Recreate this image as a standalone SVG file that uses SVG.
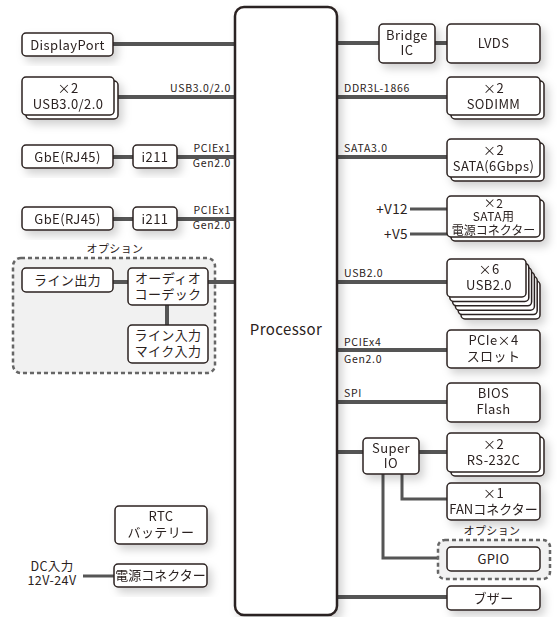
<svg xmlns="http://www.w3.org/2000/svg" width="557" height="617" viewBox="0 0 557 617">
<defs>
<filter id="sh" x="-20%" y="-20%" width="150%" height="160%">
<feDropShadow dx="4" dy="5" stdDeviation="4" flood-color="#000" flood-opacity="0.18"/>
</filter>
</defs>
<style>
.b{fill:#fff;stroke:#2b2220;stroke-width:1.5}
.t{font-family:"Noto Sans CJK JP","Noto Sans",sans-serif;font-size:13px;letter-spacing:0.4px;fill:#2b2220;text-anchor:middle}
.s{font-family:"Noto Sans CJK JP","Noto Sans",sans-serif;font-size:10.5px;letter-spacing:0.7px;fill:#2b2220}
.l{stroke:#555;stroke-width:4;fill:none}
.m{stroke:#555;stroke-width:3;fill:none}
.opt{fill:#f1f1f1;stroke:#666;stroke-width:2.5;stroke-dasharray:4 3}
</style>
<rect width="557" height="617" fill="#fff"/>

<g id="connectors">
<line class="l" x1="113" y1="44" x2="236" y2="44"/>
<line class="l" x1="118" y1="97" x2="236" y2="97"/>
<line class="l" x1="113" y1="157" x2="133" y2="157"/>
<line class="l" x1="177" y1="157" x2="236" y2="157"/>
<line class="l" x1="113" y1="219" x2="133" y2="219"/>
<line class="l" x1="177" y1="219" x2="236" y2="219"/>
<line class="l" x1="336" y1="43" x2="379" y2="43"/>
<line class="l" x1="435" y1="43" x2="447" y2="43"/>
<line class="l" x1="336" y1="97" x2="447" y2="97"/>
<line class="l" x1="336" y1="157" x2="447" y2="157"/>
<line class="m" x1="410" y1="209" x2="447" y2="209"/>
<line class="m" x1="410" y1="234" x2="447" y2="234"/>
<line class="l" x1="336" y1="282" x2="447" y2="282"/>
<line class="l" x1="336" y1="350" x2="447" y2="350"/>
<line class="l" x1="336" y1="402" x2="447" y2="402"/>
<line class="l" x1="336" y1="452" x2="363" y2="452"/>
<line class="l" x1="419" y1="452" x2="447" y2="452"/>
<polyline class="m" points="402,474 402,499 447,499"/>
<polyline class="m" points="383,474 383,558 447,558"/>
<line class="l" x1="336" y1="597" x2="447" y2="597"/>
<line class="m" x1="83" y1="576" x2="114" y2="576"/>
</g>

<g id="option-audio">
<rect class="opt" x="13" y="258" width="202" height="115" rx="8"/>
<text class="t" x="115" y="253" style="font-size:11px">オプション</text>
<line class="l" x1="113" y1="282" x2="128" y2="282"/>
<line class="l" x1="208" y1="282" x2="236" y2="282"/>
<line class="l" x1="167" y1="305" x2="167" y2="325"/>
</g>

<g id="processor">
<rect x="235" y="7" width="102" height="608" rx="9" fill="#fff" stroke="#2b2220" stroke-width="2.5" filter="url(#sh)"/>
<text class="t" x="286" y="335" style="font-size:15px">Processor</text>
</g>

<g id="displayport" filter="url(#sh)">
<rect class="b" x="22" y="33" width="91" height="23" rx="4"/>
<text class="t" x="67.5" y="49.5">DisplayPort</text>
</g>
<g id="usb30" filter="url(#sh)">
<rect class="b" x="26" y="81" width="92" height="38" rx="4"/>
<rect class="b" x="22" y="77" width="92" height="38" rx="4"/>
<text class="t" x="68" y="93">×2</text>
<text class="t" x="68" y="109">USB3.0/2.0</text>
</g>
<g id="gbe1" filter="url(#sh)">
<rect class="b" x="22" y="145" width="91" height="23" rx="4"/>
<text class="t" x="67.5" y="161.5">GbE(RJ45)</text>
</g>
<g id="i211-1" filter="url(#sh)">
<rect class="b" x="133" y="145" width="44" height="23" rx="4"/>
<text class="t" x="155" y="161.5">i211</text>
</g>
<g id="gbe2" filter="url(#sh)">
<rect class="b" x="22" y="207" width="91" height="23" rx="4"/>
<text class="t" x="67.5" y="223.5">GbE(RJ45)</text>
</g>
<g id="i211-2" filter="url(#sh)">
<rect class="b" x="133" y="207" width="44" height="23" rx="4"/>
<text class="t" x="155" y="223.5">i211</text>
</g>
<g id="line-out">
<rect class="b" x="22" y="268" width="91" height="24" rx="4"/>
<text class="t" x="67.5" y="285">ライン出力</text>
</g>
<g id="codec">
<rect class="b" x="128" y="268" width="80" height="37" rx="4"/>
<text class="t" x="168" y="283">オーディオ</text>
<text class="t" x="168" y="299">コーデック</text>
</g>
<g id="line-in">
<rect class="b" x="128" y="325" width="80" height="38" rx="4"/>
<text class="t" x="168" y="340">ライン入力</text>
<text class="t" x="168" y="356">マイク入力</text>
</g>
<g id="rtc" filter="url(#sh)">
<rect class="b" x="115" y="506" width="92" height="38" rx="4"/>
<text class="t" x="161" y="521">RTC</text>
<text class="t" x="161" y="537">バッテリー</text>
</g>
<g id="dc-in">
<text class="t" x="52" y="571" style="font-size:12.5px">DC入力</text>
<text class="t" x="52" y="585" style="font-size:12.5px">12V-24V</text>
</g>
<g id="power-conn" filter="url(#sh)">
<rect class="b" x="114" y="564" width="93" height="23" rx="4"/>
<text class="t" x="160.5" y="580" style="letter-spacing:0">電源コネクター</text>
</g>

<g id="labels">
<text class="s" x="231" y="92" text-anchor="end">USB3.0/2.0</text>
<text class="s" x="231" y="152" text-anchor="end">PCIEx1</text>
<text class="s" x="231" y="167" text-anchor="end">Gen2.0</text>
<text class="s" x="231" y="214" text-anchor="end">PCIEx1</text>
<text class="s" x="231" y="229" text-anchor="end">Gen2.0</text>
<text class="s" x="344" y="92">DDR3L-1866</text>
<text class="s" x="344" y="152">SATA3.0</text>
<text class="s" x="344" y="277">USB2.0</text>
<text class="s" x="344" y="346">PCIEx4</text>
<text class="s" x="344" y="363">Gen2.0</text>
<text class="s" x="344" y="397">SPI</text>
<text class="t" x="408" y="214" style="text-anchor:end;font-size:13.5px">+V12</text>
<text class="t" x="408" y="239" style="text-anchor:end;font-size:13.5px">+V5</text>
</g>

<g id="bridge" filter="url(#sh)">
<rect class="b" x="379" y="24" width="56" height="39" rx="4"/>
<text class="t" x="407" y="40">Bridge</text>
<text class="t" x="407" y="55">IC</text>
</g>
<g id="lvds" filter="url(#sh)">
<rect class="b" x="447" y="24" width="93" height="39" rx="4"/>
<text class="t" x="493.5" y="48">LVDS</text>
</g>
<g id="sodimm" filter="url(#sh)">
<rect class="b" x="451" y="81" width="93" height="38" rx="4"/>
<rect class="b" x="447" y="77" width="93" height="38" rx="4"/>
<text class="t" x="493.5" y="93">×2</text>
<text class="t" x="493.5" y="109">SODIMM</text>
</g>
<g id="sata" filter="url(#sh)">
<rect class="b" x="451" y="143" width="93" height="38" rx="4"/>
<rect class="b" x="447" y="139" width="93" height="38" rx="4"/>
<text class="t" x="493.5" y="155">×2</text>
<text class="t" x="493.5" y="171">SATA(6Gbps)</text>
</g>
<g id="sata-power" filter="url(#sh)">
<rect class="b" x="451" y="200" width="93" height="41" rx="4"/>
<rect class="b" x="447" y="196" width="93" height="41" rx="4"/>
<text class="t" x="493.5" y="207.5" style="font-size:12px">×2</text>
<text class="t" x="493.5" y="221" style="font-size:12px">SATA用</text>
<text class="t" x="493.5" y="234.5" style="font-size:12px;letter-spacing:0">電源コネクター</text>
</g>
<g id="usb20" filter="url(#sh)">
<rect class="b" x="461" y="281" width="79" height="38" rx="4"/>
<rect class="b" x="458.2" y="276.6" width="79" height="38" rx="4"/>
<rect class="b" x="455.4" y="272.2" width="79" height="38" rx="4"/>
<rect class="b" x="452.6" y="267.8" width="79" height="38" rx="4"/>
<rect class="b" x="449.8" y="263.4" width="79" height="38" rx="4"/>
<rect class="b" x="447" y="259" width="79" height="38" rx="4"/>
<text class="t" x="489" y="274">×6</text>
<text class="t" x="489" y="290">USB2.0</text>
</g>
<g id="pcie" filter="url(#sh)">
<rect class="b" x="447" y="330" width="93" height="38" rx="4"/>
<text class="t" x="493.5" y="345">PCIe×4</text>
<text class="t" x="493.5" y="361">スロット</text>
</g>
<g id="bios" filter="url(#sh)">
<rect class="b" x="447" y="383" width="93" height="39" rx="4"/>
<text class="t" x="493.5" y="398">BIOS</text>
<text class="t" x="493.5" y="414">Flash</text>
</g>
<g id="superio" filter="url(#sh)">
<rect class="b" x="363" y="438" width="56" height="36" rx="4"/>
<text class="t" x="391" y="453">Super</text>
<text class="t" x="391" y="468">IO</text>
</g>
<g id="rs232c" filter="url(#sh)">
<rect class="b" x="451" y="437" width="93" height="39" rx="4"/>
<rect class="b" x="447" y="433" width="93" height="39" rx="4"/>
<text class="t" x="493.5" y="449">×2</text>
<text class="t" x="493.5" y="465">RS-232C</text>
</g>
<g id="fan" filter="url(#sh)">
<rect class="b" x="447" y="483" width="93" height="37" rx="4"/>
<text class="t" x="493.5" y="498">×1</text>
<text class="t" x="493.5" y="514" style="letter-spacing:0">FANコネクター</text>
</g>
<g id="option-gpio">
<rect class="opt" x="438" y="540" width="112" height="39" rx="7"/>
<text class="t" x="492" y="535" style="font-size:11px">オプション</text>
</g>
<g id="gpio">
<rect class="b" x="447" y="547" width="93" height="24" rx="4"/>
<text class="t" x="493.5" y="564">GPIO</text>
</g>
<g id="buzzer" filter="url(#sh)">
<rect class="b" x="447" y="586" width="93" height="24" rx="4"/>
<text class="t" x="493.5" y="603">ブザー</text>
</g>
</svg>
